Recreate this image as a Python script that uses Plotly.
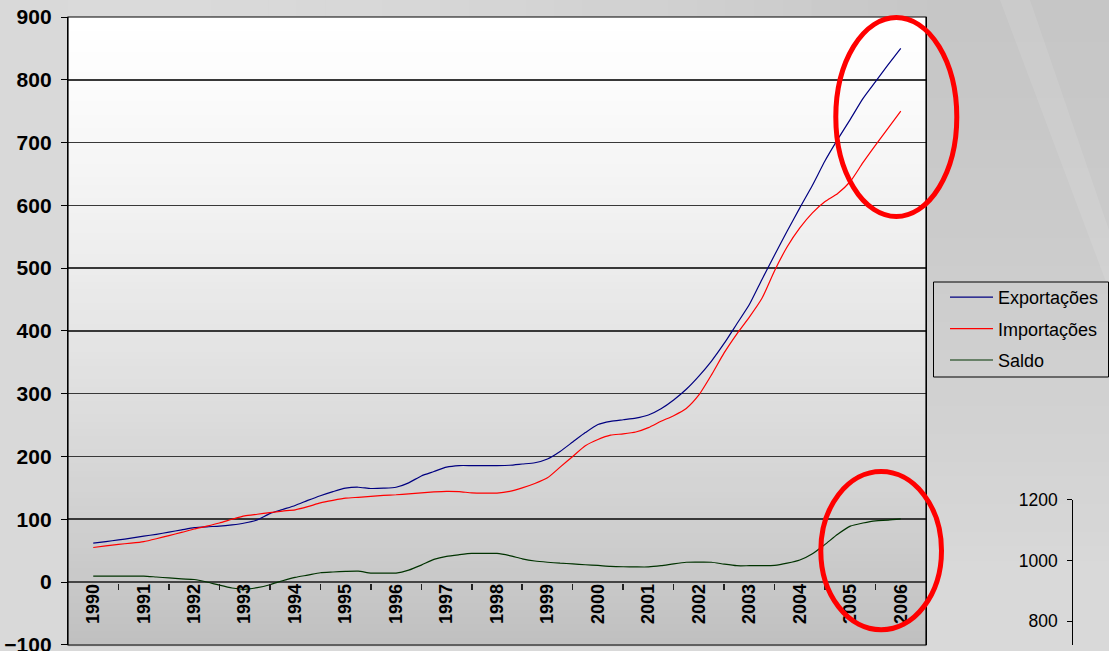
import plotly.graph_objects as go

# ---------------- data (quarterly) ----------------
quarters = [1990 + 0.25 * i for i in range(65)]

exportacoes = [
    62, 64.5, 67, 70, 73, 76, 79.5, 83, 86.5, 88, 89, 91,
    94, 99, 109, 115.5, 122, 130, 137.5, 144, 149.5, 151, 149, 149.5,
    151, 158, 169, 176, 183, 185.5, 185.5, 185.5, 185.5, 186, 188, 190,
    196, 208, 223, 238, 251, 256, 258.5, 261, 266, 276, 290, 307,
    328, 352, 380, 411, 442, 482, 521, 559, 596, 632, 671, 705,
    737, 770, 797, 824, 850,
]
importacoes = [
    55, 57.5, 60, 62, 64.5, 69, 74, 79, 84.5, 89, 94, 100,
    105.5, 108, 110.5, 113, 115, 120, 126, 130, 133.5, 135, 136.5, 138,
    139, 140.5, 142, 143.5, 144.5, 144, 142, 141.5, 141.7, 144.4, 150, 157,
    166, 183, 200, 217, 227, 234, 236, 239, 246, 256, 265, 276.5,
    298, 330, 365, 395, 422, 452, 496, 534, 564, 588, 606, 619,
    638, 668, 696, 723, 750,
]
saldo = [
    9.5, 9.5, 9.5, 9.5, 9.5, 8, 6.5, 5, 4, 0, -5, -9.5,
    -11.7, -9, -4.3, 2, 7.4, 11, 14.8, 16, 17, 17.4, 14.3, 14.3,
    14.3, 19, 27, 36, 41, 43.5, 45.5, 45.5, 45.5, 42, 37, 33.5,
    31.5, 30, 29, 27.5, 26.4, 25, 24.3, 24, 24, 26, 29, 31.5,
    31.7, 31.5, 28.5, 26, 26, 26, 26.5, 30, 35, 45, 60, 76,
    89, 94, 97.5, 98.5, 100.5,
]

years = list(range(1990, 2007))
year_labels = [str(y) for y in years]
year_bounds = [y + 0.5 for y in years[:-1]]
y_ticks = [-100, 0, 100, 200, 300, 400, 500, 600, 700, 800, 900]
y2_ticks = [800, 1000, 1200]

series_names = ["Exportações", "Importações", "Saldo"]
series_colors = ["#000080", "#FF0000", "#003300"]

# ---------------- geometry ----------------
W, H = 1109, 651
ML, MR, MT, MB = 68, 0, 17, 6
PW = W - ML - MR
PH = H - MT - MB
plot_right = 926
xdom = (plot_right - ML) / PW

def px(xp):
    return (xp - ML) / PW

def py(yp):
    return (H - MB - yp) / PH

FONT = "Liberation Sans, Arial, sans-serif"

fig = go.Figure()

for name, vals, col in zip(series_names, [exportacoes, importacoes, saldo], series_colors):
    fig.add_trace(go.Scatter(
        x=quarters, y=vals, name=name, mode="lines",
        line=dict(color=col, width=1.2, shape="spline", smoothing=0.6),
        legendgroup=name,
    ))

# dummy trace to create the secondary axis fragment
fig.add_trace(go.Scatter(x=[None], y=[None], xaxis="x", yaxis="y2",
                         showlegend=False, hoverinfo="skip"))

shapes = []
# paper background texture: soft darker zone right of the plot
NB = 40
for i in range(NB):
    y0 = i * 560 / NB
    y1 = (i + 1) * 560 / NB + 1
    t = (i + 0.5) / NB
    g = int(round(198 + 18 * t ** 1.4))
    shapes.append(dict(type="rect", xref="paper", yref="paper", layer="below",
                       x0=px(926), x1=px(1109), y0=py(y1), y1=py(y0),
                       fillcolor=f"rgb({g},{g},{g})", line=dict(width=0)))
# faint lighter diagonal band
shapes.append(dict(type="path", xref="paper", yref="paper", layer="below",
                   path=f"M {px(1000)} {py(0)} L {px(1030)} {py(0)} L {px(1109)} {py(230)} "
                        f"L {px(1109)} {py(290)} Z",
                   fillcolor="rgba(255,255,255,0.10)", line=dict(width=0)))
# top strip above plot, darkening to the right
NS = 30
for i in range(NS):
    t = (i + 0.5) / NS
    g = int(round(218 - 20 * t ** 2))
    shapes.append(dict(type="rect", xref="paper", yref="paper", layer="below",
                       x0=px(68 + i * 858 / NS), x1=px(68 + (i + 1) * 858 / NS + 1),
                       y0=py(17), y1=py(0),
                       fillcolor=f"rgb({g},{g},{g})", line=dict(width=0)))

# vertical gradient inside the plot area
N = 90
for i in range(N):
    f = (i + 0.5) / N
    g = int(round(255 - 63 * f ** 1.3))
    shapes.append(dict(type="rect", xref="x domain", yref="y domain", layer="below",
                       x0=0, x1=1, y0=1 - (i + 1) / N - 0.002, y1=1 - i / N,
                       fillcolor=f"rgb({g},{g},{g})", line=dict(width=0)))

# plot border
shapes.append(dict(type="rect", xref="x domain", yref="y domain", layer="above",
                   x0=0, x1=1, y0=0, y1=1, line=dict(color="black", width=1.2)))

# legend frame
shapes.append(dict(type="rect", xref="paper", yref="paper", layer="above",
                   x0=px(933.5), x1=px(1108.5), y0=py(377), y1=py(282),
                   line=dict(color="black", width=1)))

# red highlight ellipses
shapes.append(dict(type="circle", xref="paper", yref="paper", layer="above",
                   x0=px(835.8), x1=px(956.8), y0=py(216.5), y1=py(17.5),
                   line=dict(color="#FF0000", width=5)))
shapes.append(dict(type="circle", xref="paper", yref="paper", layer="above",
                   x0=px(820.8), x1=px(941.5), y0=py(629.8), y1=py(471.5),
                   line=dict(color="#FF0000", width=5)))

y2_top_px = 499.5
y2_bottom_val = 1200 - (H - MB - y2_top_px) / 60.8 * 200

fig.update_layout(
    width=W, height=H,
    margin=dict(l=ML, r=MR, t=MT, b=MB, pad=0),
    paper_bgcolor="#d9d9d9",
    plot_bgcolor="rgba(0,0,0,0)",
    font=dict(family=FONT, color="black"),
    showlegend=True,
    legend=dict(
        x=px(945), y=py(279), xanchor="left", yanchor="top",
        xref="paper", yref="paper",
        bgcolor="rgba(0,0,0,0)", borderwidth=0,
        font=dict(family=FONT, size=18, color="black"),
        tracegroupgap=5, itemwidth=43,
    ),
    xaxis=dict(
        domain=[0, xdom], range=[1989.5, 2006.5],
        anchor="free", position=py(583.3),
        tickmode="array", tickvals=years, ticktext=year_labels,
        ticks="", tickangle=-90, ticklabelstandoff=-4,
        tickfont=dict(family=FONT, size=18, color="black", weight="bold"),
        minor=dict(tickmode="array", tickvals=year_bounds, ticks="outside",
                   ticklen=6, tickcolor="#222", tickwidth=1.5, showgrid=False),
        showgrid=False, zeroline=False, showline=False, automargin=False,
        fixedrange=True,
    ),
    yaxis=dict(
        domain=[0, 1], range=[-100.3, 900],
        tickmode="array", tickvals=y_ticks,
        ticks="outside", ticklen=6, tickcolor="black", tickwidth=1,
        ticklabelstandoff=5, ticklabeloverflow="allow",
        tickfont=dict(family=FONT, size=21, color="black", weight="bold"),
        showgrid=True, gridcolor="#383838", gridwidth=1.6,
        zeroline=True, zerolinecolor="#444444", zerolinewidth=1.8,
        showline=True, linecolor="black", linewidth=1.2, mirror=True,
        automargin=False, fixedrange=True,
    ),
    yaxis2=dict(
        domain=[0, py(y2_top_px)], range=[y2_bottom_val, 1200.5],
        anchor="free", position=px(1072.3), side="left",
        tickmode="array", tickvals=y2_ticks,
        ticks="outside", ticklen=5, tickcolor="black", tickwidth=1,
        ticklabelstandoff=6, ticklabeloverflow="allow",
        tickfont=dict(family=FONT, size=17.5, color="black"),
        showgrid=False, zeroline=False,
        showline=True, linecolor="black", linewidth=1,
        automargin=False, fixedrange=True,
    ),
    shapes=shapes,
)

fig.write_html("out.html",
               config={"displayModeBar": False, "staticPlot": True},
               post_script="document.body.style.margin='0';document.body.style.background='#d9d9d9';")
